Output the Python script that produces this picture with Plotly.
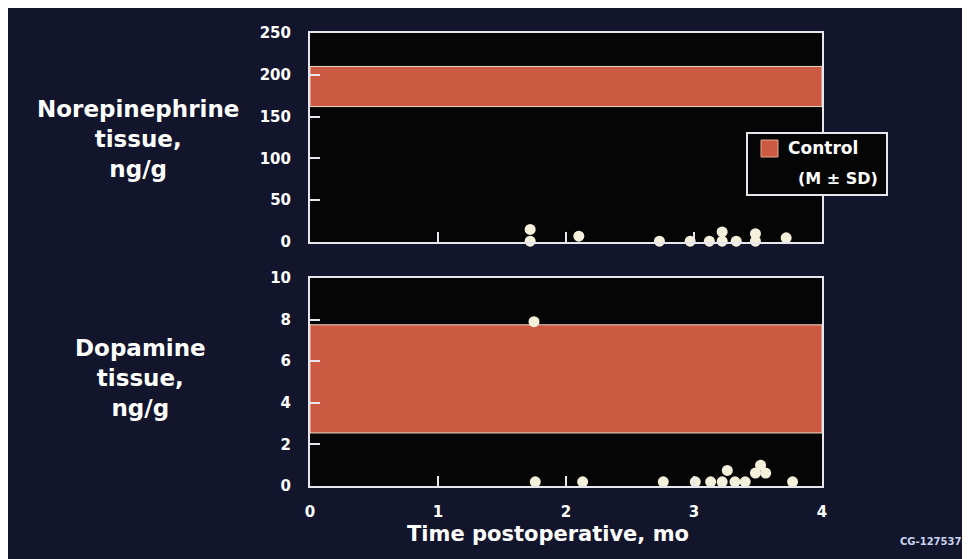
import plotly.graph_objects as go

# ---------------- data ----------------
ne_time = [1.72, 1.72, 2.10, 2.73, 2.97, 3.12, 3.22, 3.22, 3.33, 3.48, 3.48, 3.72]
ne_value = [15, 1, 7, 1, 1, 1, 12, 1, 1, 10, 1, 5]
ne_control_mean = 186
ne_control_sd = 24

da_time = [1.75, 1.76, 2.13, 2.76, 3.01, 3.13, 3.22, 3.26, 3.32, 3.40, 3.48, 3.52, 3.56, 3.77]
da_value = [7.9, 0.2, 0.2, 0.2, 0.2, 0.2, 0.2, 0.75, 0.2, 0.2, 0.62, 1.0, 0.62, 0.2]
da_control_mean = 5.15
da_control_sd = 2.6

x_ticks = [0, 1, 2, 3, 4]
ne_ticks = [0, 50, 100, 150, 200, 250]
da_ticks = [0, 2, 4, 6, 8, 10]

# ---------------- layout helpers (page pixel -> paper) ----------------
W, H = 970, 559
OFF = 8  # page body margin
L, R, T, B = 310 - OFF, 822 - OFF, 33 - OFF, 486 - OFF


def px(x):
    return (x - OFF - L) / (R - L)


def py(y):
    return (B - (y - OFF)) / (B - T)


NAVY = "#13152c"
FRAME = "#e6e6ee"
ORANGE = "#cc5a42"
DOT = "#f5f0dc"
FONT = "DejaVu Sans"

fig = go.Figure()

fig.add_trace(go.Scatter(
    x=ne_time, y=ne_value, mode="markers", xaxis="x", yaxis="y",
    marker=dict(size=11, color=DOT, line=dict(width=0)),
    cliponaxis=False, showlegend=False, name="Norepinephrine"))
fig.add_trace(go.Scatter(
    x=da_time, y=da_value, mode="markers", xaxis="x2", yaxis="y2",
    marker=dict(size=11, color=DOT, line=dict(width=0)),
    cliponaxis=False, showlegend=False, name="Dopamine"))

shapes = []
# control bands (mean ± SD) in data coordinates
shapes.append(dict(type="rect", xref="x", yref="y", x0=0, x1=4,
                   y0=ne_control_mean - ne_control_sd, y1=ne_control_mean + ne_control_sd,
                   fillcolor=ORANGE, line=dict(color="#e8d8c8", width=1), layer="below"))
shapes.append(dict(type="rect", xref="x2", yref="y2", x0=0, x1=4,
                   y0=da_control_mean - da_control_sd, y1=da_control_mean + da_control_sd,
                   fillcolor=ORANGE, line=dict(color="#e8d8c8", width=1), layer="below"))
# legend box
shapes.append(dict(type="rect", xref="paper", yref="paper", x0=px(747), x1=px(887),
                   y0=py(195), y1=py(133), fillcolor="#050505",
                   line=dict(color=FRAME, width=2), layer="above"))
shapes.append(dict(type="rect", xref="paper", yref="paper", x0=px(761), x1=px(778),
                   y0=py(157), y1=py(140), fillcolor=ORANGE,
                   line=dict(color="#e8a890", width=1), layer="above"))

annotations = [
    dict(text="Norepinephrine<br>tissue,<br>ng/g", x=px(138), y=py(139),
         xref="paper", yref="paper", xanchor="center", yanchor="middle", showarrow=False,
         font=dict(family=FONT, size=23, color="white", weight="bold"), align="center"),
    dict(text="Dopamine<br>tissue,<br>ng/g", x=px(140), y=py(378),
         xref="paper", yref="paper", xanchor="center", yanchor="middle", showarrow=False,
         font=dict(family=FONT, size=23, color="white", weight="bold"), align="center"),
    dict(text="Time postoperative, mo", x=px(548), y=py(534),
         xref="paper", yref="paper", xanchor="center", yanchor="middle", showarrow=False,
         font=dict(family=FONT, size=21, color="white", weight="bold")),
    dict(text="Control", x=px(786), y=py(148),
         xref="paper", yref="paper", xanchor="left", yanchor="middle", showarrow=False,
         font=dict(family=FONT, size=17, color="white", weight="bold")),
    dict(text="(M ± SD)", x=px(796), y=py(178),
         xref="paper", yref="paper", xanchor="left", yanchor="middle", showarrow=False,
         font=dict(family=FONT, size=16, color="white", weight="bold")),
    dict(text="CG-127537-", x=px(898), y=py(541),
         xref="paper", yref="paper", xanchor="left", yanchor="middle", showarrow=False,
         font=dict(family=FONT, size=10, color="#c8d4f0", weight="bold")),
]

axis_common = dict(showline=True, mirror=True, linecolor=FRAME, linewidth=2,
                   ticks="inside", ticklen=10, tickwidth=2, tickcolor=FRAME,
                   showgrid=False, zeroline=False, fixedrange=True)
tickfont = dict(family=FONT, size=15, color="white", weight="bold")

top_dom = [py(242), 1]
bot_dom = [0, py(278)]

fig.update_layout(
    width=W, height=H,
    margin=dict(l=L, r=W - R, t=T, b=H - B),
    paper_bgcolor=NAVY, plot_bgcolor="#050505",
    showlegend=False,
    xaxis=dict(domain=[0, 1], anchor="y", range=[0, 4], tickvals=x_ticks,
               showticklabels=False, **axis_common),
    yaxis=dict(domain=top_dom, anchor="x", range=[0, 250], tickvals=ne_ticks,
               tickfont=tickfont, ticklabelstandoff=14, **axis_common),
    xaxis2=dict(domain=[0, 1], anchor="y2", range=[0, 4], tickvals=x_ticks,
                tickfont=tickfont, ticklabelstandoff=11, **axis_common),
    yaxis2=dict(domain=bot_dom, anchor="x2", range=[0, 10], tickvals=da_ticks,
                tickfont=tickfont, ticklabelstandoff=14, **axis_common),
    shapes=shapes,
    annotations=annotations,
)

fig.write_html("out.html")
